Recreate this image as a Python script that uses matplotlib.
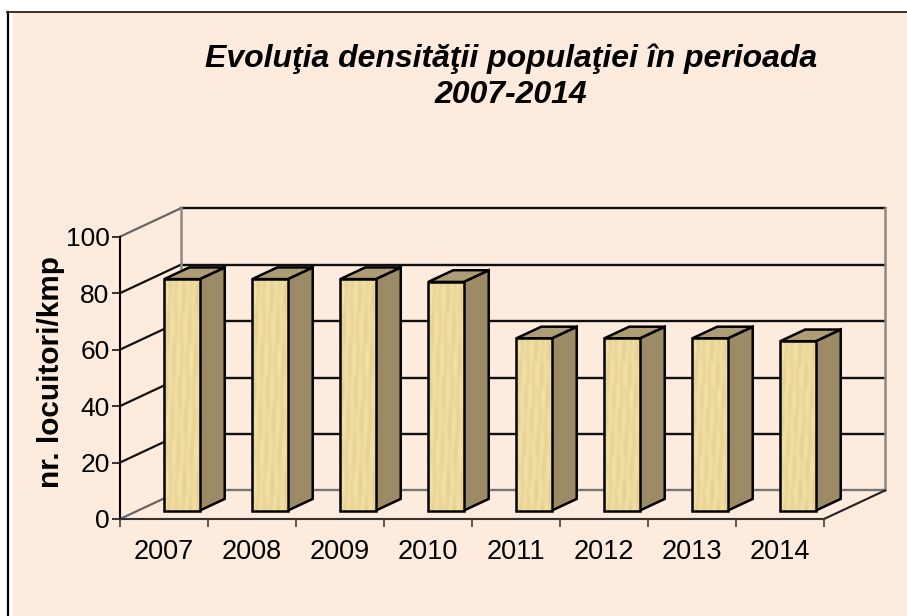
import numpy as np
import matplotlib
matplotlib.use("Agg")
import matplotlib.pyplot as plt
from matplotlib.patches import Polygon, Rectangle

years = ["2007", "2008", "2009", "2010", "2011", "2012", "2013", "2014"]
density = [82, 82, 82, 81, 61, 61, 61, 60]
yticks = [0, 20, 40, 60, 80, 100]

BG = "#FDEBDD"
W, H = 907, 616
# one full step of depth, in data units (61 px right, 28.5 px up)
DX, DY = 0.693, 10.1
BAR_W = 0.403
D0, D1 = 0.295, 0.705

plt.rcParams["font.family"] = ["Liberation Sans", "DejaVu Sans"]

fig = plt.figure(figsize=(W / 100, H / 100), dpi=100, facecolor="white")
# panel runs off the right and bottom edges, black rule only top and left
fig.add_artist(Rectangle((13 / W, 0), (W - 13) / W, 1 - 12 / H, transform=fig.transFigure,
                         fc=BG, ec="none", zorder=-3))
fig.add_artist(plt.Line2D([8 / W, 8 / W], [0, 1 - 11.5 / H], color="black", lw=1.6, zorder=-2))
fig.add_artist(plt.Line2D([7 / W, 1], [1 - 11.5 / H, 1 - 11.5 / H], color="black", lw=1.1, zorder=-2))

ax = fig.add_axes([120 / W, 1 - 519 / H, 704 / W, 282.3 / H])
ax.set_xlim(0, 8)
ax.set_ylim(0, 100)
ax.patch.set_alpha(0)
for s in ["top", "right"]:
    ax.spines[s].set_visible(False)
ax.spines["left"].set_linewidth(1.5)
ax.spines["bottom"].set_linewidth(1.5)
ax.spines["bottom"].set_color("#333333")


def pt(x, v, d):
    return (x + d * DX, v + d * DY)


def face(pts, **kw):
    kw.setdefault("fill", False)
    p = Polygon(pts, closed=True, clip_on=False, joinstyle="miter", **kw)
    ax.add_patch(p)
    return p


# walls
for v in yticks:
    col = "#777777" if v == 0 else "#111111"
    ax.plot(*zip(pt(8, v, 1), pt(0, v, 1)), color=col, lw=1.7, clip_on=False, zorder=1)
    ax.plot(*zip(pt(0, v, 1), pt(0, v, 0)), color="#666666" if v in (0, 100) else "#111111",
            lw=1.6, clip_on=False, zorder=1)
ax.plot(*zip(pt(0, 0, 1), pt(0, 100, 1)), color="#8A8A8A", lw=1.8, clip_on=False, zorder=1)
ax.plot(*zip(pt(8, 0, 1), pt(8, 100, 1)), color="#8A8A8A", lw=1.8, clip_on=False, zorder=1)
ax.plot(*zip(pt(8, 0, 0), pt(8, 0, 1)), color="#222222", lw=1.5, clip_on=False, zorder=1)

# wood grain for the bar fronts, a soft plaid rather than noise
gx, gy = np.meshgrid(np.linspace(0, 1, 36), np.linspace(0, 1, 230))
grain = 0.5 + 0.25 * np.sin(gx * 19) * np.sin(gy * 23) + 0.25 * np.sin(gx * 31 + gy * 7)
light = np.array([243, 226, 168]) / 255
dark = np.array([230, 208, 148]) / 255
tex = dark + (light - dark) * grain[..., None]

for i, v in enumerate(density):
    x0 = i + 0.5 - BAR_W / 2
    x1 = x0 + BAR_W
    front = [pt(x0, 0, D0), pt(x1, 0, D0), pt(x1, v, D0), pt(x0, v, D0)]
    side = [pt(x1, 0, D0), pt(x1, 0, D1), pt(x1, v, D1), pt(x1, v, D0)]
    top = [pt(x0, v, D0), pt(x1, v, D0), pt(x1, v, D1), pt(x0, v, D1)]
    face(side, fc="#9C8B66", ec="black", lw=1.8, fill=True, zorder=3)
    face(top, fc="#AE9C74", ec="black", lw=1.8, fill=True, zorder=3)
    fx0, fy0 = pt(x0, 0, D0)
    fx1, fy1 = pt(x1, v, D0)
    ax.imshow(tex, extent=(fx0, fx1, fy0, fy1), aspect="auto", zorder=3.5, clip_on=False)
    face(front, ec="black", lw=1.8, zorder=4)
ax.set_xlim(0, 8)
ax.set_ylim(0, 100)

ax.set_xticks(range(9))
ax.set_xticklabels([])
ax.tick_params(axis="x", direction="out", length=6, width=1.1, color="#333333")
for i, y in enumerate(years):
    ax.text(i + 0.5, -11.8, y, ha="center", va="center", fontsize=19.5)
ax.set_yticks(yticks)
ax.set_yticklabels(yticks, fontsize=19)
ax.tick_params(axis="y", direction="out", length=6, width=1.1, pad=1.5)

fig.text(51 / W, 1 - 372 / H, "nr. locuitori/kmp", rotation=90, ha="center", va="center",
         fontsize=21.4, fontweight="bold")
fig.text(511 / W, 1 - 77 / H, "Evoluţia densităţii populaţiei în perioada\n2007-2014",
         ha="center", va="center", fontsize=23, fontweight="bold", fontstyle="italic",
         linespacing=1.25)

fig.savefig("out.png", dpi=100, facecolor="white")
